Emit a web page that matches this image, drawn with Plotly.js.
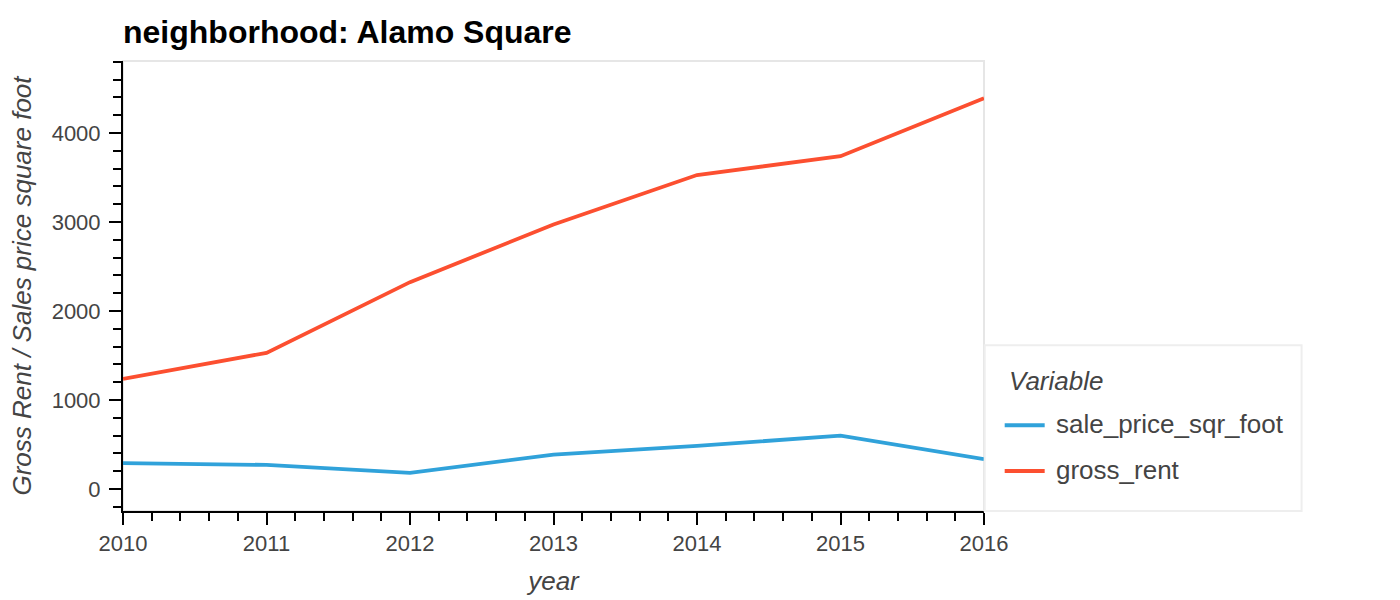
<!DOCTYPE html>
<html>
<head>
<meta charset="utf-8">
<script src="https://cdn.plot.ly/plotly-3.0.1.min.js"></script>
<style>
  html, body { margin: 0; padding: 0; background: #fff; }
  #chart { width: 1400px; height: 600px; }
</style>
</head>
<body>
<div id="chart"></div>
<script>
const years = [2010, 2011, 2012, 2013, 2014, 2015, 2016];
const salePriceSqrFoot = [290, 271, 182, 387, 484, 600, 335];
const grossRent = [1238, 1530, 2324, 2972, 3528, 3739, 4390];
const seriesNames = ['sale_price_sqr_foot', 'gross_rent'];
const seriesColors = ['#30a2da', '#fc4f30'];
const legendTitle = 'Variable';
const yTickVals = [0, 1000, 2000, 3000, 4000];
const xTickVals = years;

const FONT = '"Liberation Sans", Arial, Helvetica, sans-serif';

// plot-area geometry in pixels
const W = 1400, H = 600;
const L = 123, R = 984.3, T = 61, B = 510.7;
const px = x => (x - L) / (R - L);       // pixel x -> paper x
const py = y => (B - y) / (B - T);       // pixel y -> paper y

const traces = [
  {
    x: years, y: salePriceSqrFoot, name: seriesNames[0], type: 'scatter', mode: 'lines',
    line: { color: seriesColors[0], width: 3.8 }
  },
  {
    x: years, y: grossRent, name: seriesNames[1], type: 'scatter', mode: 'lines',
    line: { color: seriesColors[1], width: 3.8 }
  }
];

const axisCommon = {
  showgrid: false, zeroline: false,
  showline: true, linecolor: '#000', linewidth: 2,
  ticks: 'outside', ticklen: 12, tickwidth: 2, tickcolor: '#000',
  tickfont: { family: FONT, size: 22, color: '#444' },
  automargin: false
};

// legend (drawn as layout decoration)
const legendItemY = [425, 470.7];
const shapes = [
  { type: 'rect', xref: 'paper', yref: 'paper', x0: 0, x1: 1, y0: 0, y1: 1,
    line: { color: '#e6e6e6', width: 2 }, layer: 'below' },
  { type: 'rect', xref: 'paper', yref: 'paper', x0: px(985), x1: px(1302), y0: py(510.7), y1: py(345),
    line: { color: '#eeeeee', width: 2 }, fillcolor: '#fff', layer: 'above' }
];
const annotations = [
  { xref: 'paper', yref: 'paper', x: px(1007), y: py(381), xanchor: 'left', yanchor: 'middle',
    text: legendTitle, showarrow: false,
    font: { family: FONT, size: 26, color: '#444', style: 'italic' } }
];
seriesNames.forEach((name, i) => {
  shapes.push({ type: 'line', xref: 'paper', yref: 'paper',
    x0: px(1005), x1: px(1045), y0: py(legendItemY[i]), y1: py(legendItemY[i]),
    line: { color: seriesColors[i], width: 4 }, layer: 'above' });
  annotations.push({ xref: 'paper', yref: 'paper', x: px(1054), y: py(legendItemY[i] - 1),
    xanchor: 'left', yanchor: 'middle', text: name, showarrow: false,
    font: { family: FONT, size: 26, color: '#444' } });
});

const layout = {
  width: W, height: H,
  paper_bgcolor: '#fff', plot_bgcolor: '#fff',
  margin: { l: L, r: W - R, t: T, b: H - B, pad: 0 },
  title: {
    text: '<b>neighborhood: Alamo Square</b>',
    font: { family: FONT, size: 32, color: '#000' },
    x: L / W, xref: 'container', xanchor: 'left',
    y: 1 - 32 / H, yref: 'container', yanchor: 'middle'
  },
  xaxis: Object.assign({}, axisCommon, {
    range: [2010, 2016],
    tickmode: 'array', tickvals: xTickVals, ticktext: xTickVals.map(String),
    minor: { dtick: 0.2, tick0: 2010, ticks: 'outside', ticklen: 8, tickwidth: 2, tickcolor: '#000', showgrid: false },
    title: { text: 'year', font: { family: FONT, size: 26, color: '#444', style: 'italic' }, standoff: 16 }
  }),
  yaxis: Object.assign({}, axisCommon, {
    range: [-247, 4809],
    tickmode: 'array', tickvals: yTickVals, ticktext: yTickVals.map(String),
    ticklabelstandoff: 4,
    minor: { dtick: 200, tick0: 0, ticks: 'outside', ticklen: 8, tickwidth: 2, tickcolor: '#000', showgrid: false },
    title: { text: 'Gross Rent / Sales price square foot', font: { family: FONT, size: 26, color: '#444', style: 'italic' }, standoff: 13 }
  }),
  showlegend: false,
  shapes: shapes,
  annotations: annotations
};

Plotly.newPlot('chart', traces, layout, { displayModeBar: false, staticPlot: true });
</script>
</body>
</html>
